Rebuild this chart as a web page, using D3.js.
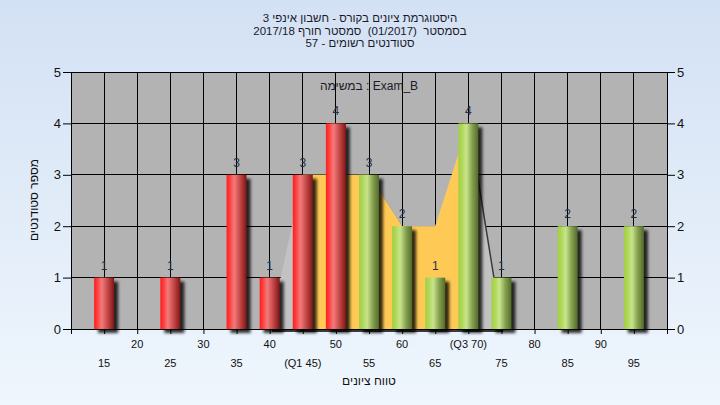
<!DOCTYPE html>
<html><head><meta charset="utf-8">
<script src="https://cdn.jsdelivr.net/npm/d3@7"></script>
<style>
body{margin:0;background:#fff;}
svg{display:block;}
text{font-family:"Liberation Sans","DejaVu Sans",Arial,sans-serif;}
.pre{white-space:pre;}
</style>
</head><body>
<svg id="c" width="720" height="405"></svg>
<script>
// ---- data ----
const titleLines = ["היסטוגרמת ציונים בקורס - חשבון אינפי 3", "בסמסטר  (01/2017)  סמסטר חורף 2017/18", "סטודנטים רשומים - 57"];
const subtitle = "במשימה : Exam_B";
const xTitle = "טווח ציונים";
const yTitle = "מספר סטודנטים";
const categories = [15, 20, 25, 30, 35, 40, 45, 50, 55, 60, 65, 70, 75, 80, 85, 90, 95];
const counts     = [1, 0, 1, 0, 3, 1, 3, 4, 3, 2, 1, 4, 1, 0, 2, 0, 2];
const tickLabels = ["15","20","25","30","35","40","(Q1 45)","50","55","60","65","(Q3 70)","75","80","85","90","95"];
const q1 = 45, q3 = 70;
const passMark = 55;
const areaCats = [40, 45, 50, 55, 60, 65, 70, 75, 80];
const areaVals = [0, 3, 3, 3, 2, 2, 4, 0, 0];
const yTicks = [0, 1, 2, 3, 4, 5];

// ---- layout ----
const W = 720, H = 405;
const L = 71, R = 667, T = 72, B = 329;
const svg = d3.select("#c");
const defs = svg.append("defs");

const bg = defs.append("linearGradient").attr("id","bg").attr("x1",0).attr("y1",0).attr("x2",0).attr("y2",1);
bg.append("stop").attr("offset","0").attr("stop-color","#d3e1f4");
bg.append("stop").attr("offset","1").attr("stop-color","#eff6fd");

function grad(id, stops){
  const g = defs.append("linearGradient").attr("id",id).attr("x1",0).attr("y1",0).attr("x2",1).attr("y2",0);
  stops.forEach(s=>g.append("stop").attr("offset",s[0]).attr("stop-color",s[1]));
}
grad("red", [[0,"#ff1e1e"],[0.12,"#ff3434"],[0.38,"#f47a7a"],[0.7,"#c04444"],[1,"#7e1616"]]);
grad("green", [[0,"#a2cf44"],[0.15,"#acd652"],[0.4,"#c8e48c"],[0.7,"#84a04e"],[1,"#536a2a"]]);

const blur = defs.append("filter").attr("id","blur").attr("x","-50%").attr("y","-50%").attr("width","200%").attr("height","200%");
blur.append("feGaussianBlur").attr("stdDeviation",1.6);
const blur2 = defs.append("filter").attr("id","blur2");
blur2.append("feGaussianBlur").attr("stdDeviation",0.5);

svg.append("rect").attr("width",W).attr("height",H).attr("fill","url(#bg)");

const x = d3.scaleLinear().domain([10,100]).range([L,R]);
const y = d3.scaleLinear().domain([0,5]).range([B,T]);

// plot background
svg.append("rect").attr("x",L).attr("y",T).attr("width",R-L).attr("height",B-T).attr("fill","#b3b3b3");

// grid
const gridX = d3.range(10,101,5);
svg.append("g").selectAll("line").data(gridX).join("line")
  .attr("x1",d=>x(d)).attr("x2",d=>x(d)).attr("y1",T).attr("y2",B)
  .attr("stroke","#000").attr("stroke-width",1).attr("shape-rendering","crispEdges");
svg.append("g").selectAll("line").data(yTicks).join("line")
  .attr("x1",L).attr("x2",R).attr("y1",d=>y(d)).attr("y2",d=>y(d))
  .attr("stroke","#000").attr("stroke-width",1).attr("shape-rendering","crispEdges");

// area (quartile range highlight)
const areaData = areaCats.map((c,i)=>({c, v:areaVals[i]}));
const area = d3.area().x(d=>x(d.c)).y0(y(0)).y1(d=>y(d.v));
svg.append("path").datum(areaData).attr("d",area).attr("fill","#3a3a3a")
  .attr("transform","translate(2,3)").attr("filter","url(#blur2)");
svg.append("path").datum(areaData).attr("d",area).attr("fill","#c2c2c2");
defs.append("clipPath").attr("id","iqr").append("rect")
  .attr("x",x(q1)).attr("y",T).attr("width",x(q3)-x(q1)).attr("height",B-T);
svg.append("path").datum(areaData).attr("d",area).attr("fill","#ffc955").attr("clip-path","url(#iqr)");

// bars
const bw = 20;
const bars = categories.map((c,i)=>({c, v:counts[i]})).filter(d=>d.v>0);
svg.append("g").selectAll("rect").data(bars).join("rect")
  .attr("x",d=>x(d.c)-bw/2+4).attr("y",d=>y(d.v)+4).attr("width",bw).attr("height",d=>y(0)-y(d.v))
  .attr("fill","#000").attr("opacity",0.8).attr("filter","url(#blur)");
svg.append("g").selectAll("rect").data(bars).join("rect")
  .attr("x",d=>x(d.c)-bw/2).attr("y",d=>y(d.v)).attr("width",bw).attr("height",d=>y(0)-y(d.v))
  .attr("fill",d=>d.c<passMark?"url(#red)":"url(#green)");
svg.append("g").selectAll("text").data(bars).join("text")
  .attr("x",d=>x(d.c)).attr("y",d=>y(d.v)-8).attr("text-anchor","middle")
  .attr("font-size",12).attr("fill","#1f2f48").text(d=>d.v);

// axes
const yl = svg.append("g").attr("transform",`translate(${L},0)`)
  .call(d3.axisLeft(y).tickValues(yTicks).tickSize(8).tickPadding(2).tickFormat(d3.format("d")));
const yr = svg.append("g").attr("transform",`translate(${R},0)`)
  .call(d3.axisRight(y).tickValues(yTicks).tickSize(8).tickPadding(2).tickFormat(d3.format("d")));
[yl,yr].forEach(g=>{
  g.select(".domain").attr("stroke","#000");
  g.selectAll(".tick line").attr("stroke","#000");
  g.selectAll(".tick text").attr("font-size",13).attr("fill","#111").attr("font-family","Liberation Sans, Arial, sans-serif");
});
const xa = svg.append("g").attr("transform",`translate(0,${B})`)
  .call(d3.axisBottom(x).tickValues(gridX).tickSize(5).tickFormat(""));
xa.select(".domain").attr("stroke","#000");
xa.selectAll(".tick line").attr("stroke","#000");

svg.append("g").selectAll("text").data(categories).join("text")
  .attr("x",d=>x(d)).attr("y",(d,i)=> i%2===0 ? 367 : 348)
  .attr("text-anchor","middle").attr("font-size",11).attr("fill","#111")
  .text((d,i)=>tickLabels[i]);

// titles
svg.append("g").selectAll("text").data(titleLines).join("text")
  .attr("class","pre").attr("x",360).attr("y",(d,i)=>22+i*12.5)
  .attr("text-anchor","middle").attr("font-size",11.5).attr("fill","#1a1a2a").text(d=>d);
svg.append("text").attr("x",(L+R)/2).attr("y",90).attr("text-anchor","middle")
  .attr("font-size",12).attr("fill","#1a1a2a").text(subtitle);
svg.append("text").attr("x",(L+R)/2).attr("y",385).attr("text-anchor","middle")
  .attr("font-size",12).attr("fill","#111").text(xTitle);
svg.append("text").attr("transform","translate(38,200) rotate(-90)").attr("text-anchor","middle")
  .attr("font-size",12).attr("fill","#111").text(yTitle);
</script>
</body></html>
